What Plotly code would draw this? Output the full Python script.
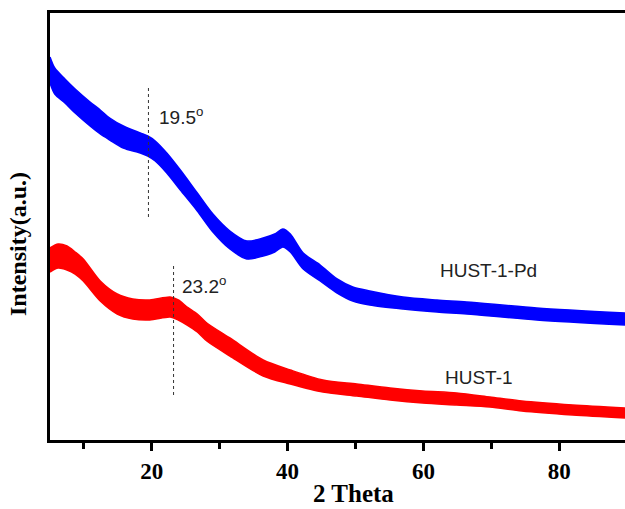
import plotly.graph_objects as go

# XRD patterns: 2-theta (deg) vs. intensity (a.u.), plus half-width of the noise band
pd_two_theta = [5.0, 5.7, 7.2, 8.7, 10.9, 12.4, 13.8, 15.8, 18.3, 19.4, 20.5, 22.2, 24.2,
                26.7, 29.0, 31.5, 34.0, 36.4, 38.1, 39.3, 40.4, 42.3, 44.8, 47.3, 49.6,
                52.1, 57.0, 62.0, 66.4, 76.7, 89.7]
pd_intensity = [370, 359, 349, 339, 326, 318, 311, 303, 297, 294, 289, 277, 260,
                238, 217, 200, 190, 193, 197, 202, 197, 179, 167, 154, 146,
                142, 137, 134, 132, 126, 121]
pd_spread = [13, 13, 12, 12, 12, 12, 11, 11, 10, 10, 10, 10, 10,
             9, 9, 9, 9, 9, 9, 9, 9, 8, 8, 7, 7,
             7, 6, 6, 6, 6, 6]

hk_two_theta = [5.0, 6.2, 7.5, 8.7, 9.9, 12.4, 14.9, 17.2, 19.7, 22.7, 23.9, 25.2, 26.7,
                28.1, 31.5, 36.4, 40.4, 45.2, 50.2, 55.1, 59.9, 64.9, 69.8, 74.5, 82.0, 89.7]
hk_intensity = [180, 184, 182, 177, 170, 149, 136, 131, 130, 133, 130, 124, 117,
                108, 93, 72, 63, 54, 50, 46, 43, 41, 38, 34, 30, 27]
hk_spread = [12, 12, 12, 11, 11, 10, 10, 10, 10, 10, 10, 9, 9,
             9, 9, 8, 7, 6, 6, 6, 6, 6, 5, 5, 5, 5]

series = [
    ("HUST-1-Pd", pd_two_theta, pd_intensity, pd_spread, "#0000FF"),
    ("HUST-1", hk_two_theta, hk_intensity, hk_spread, "#FF0000"),
]

# peak markers: (position, y from, y to)
peak_marks = [(19.5, 223, 355), (23.2, 45, 176)]

# text labels: (x, y, text)
labels = [
    (20.8, 324, "19.5<sup>o</sup>"),
    (24.2, 155, "23.2<sup>o</sup>"),
    (62.1, 170, "HUST-1-Pd"),
    (62.9, 63, "HUST-1"),
]

fig = go.Figure()
for name, tt, inten, spread, color in series:
    upper = [v + s for v, s in zip(inten, spread)]
    lower = [v - s for v, s in zip(inten, spread)]
    fig.add_trace(go.Scatter(x=tt, y=upper, mode="lines",
                             line=dict(color=color, width=1.5, shape="spline",
                                       smoothing=0.8),
                             showlegend=False, hoverinfo="skip"))
    fig.add_trace(go.Scatter(x=tt, y=lower, mode="lines", fill="tonexty",
                             fillcolor=color,
                             line=dict(color=color, width=1.5, shape="spline",
                                       smoothing=0.8),
                             name=name, showlegend=False))

for pos, y0, y1 in peak_marks:
    fig.add_shape(type="line", x0=pos, x1=pos, y0=y0, y1=y1, xref="x", yref="y",
                  line=dict(color="#333333", width=1, dash="dot"))

for x, y, txt in labels:
    fig.add_annotation(x=x, y=y, text=txt, showarrow=False, xanchor="left",
                       yanchor="middle",
                       font=dict(family="Liberation Sans, Arial", size=19, color="#222222"))

# axis titles
serif_bold = dict(family="Liberation Serif, Times New Roman", color="black", weight="bold")
fig.add_annotation(x=(353 - 50) / 575, y=(440 - 494) / 427, xref="paper", yref="paper",
                   text="2 Theta", showarrow=False, xanchor="center", yanchor="middle",
                   font=dict(size=25, **serif_bold))
fig.add_annotation(x=(18 - 50) / 575, y=(440 - 244) / 427, xref="paper", yref="paper",
                   text="Intensity(a.u.)", showarrow=False, textangle=-90,
                   xanchor="center", yanchor="middle",
                   font=dict(size=24, **serif_bold))

fig.update_layout(
    width=625, height=509,
    margin=dict(l=50, r=0, t=13, b=69),
    plot_bgcolor="white", paper_bgcolor="white",
    showlegend=False,
    xaxis=dict(range=[5, 89.7], showline=True, linewidth=3, linecolor="black",
               mirror=True, ticks="outside", ticklen=8, tickwidth=3,
               tickcolor="black", tickvals=[20, 40, 60, 80],
               minor=dict(tickvals=[10, 30, 50, 70], ticks="outside", ticklen=6,
                          tickwidth=3, tickcolor="black"),
               showgrid=False, zeroline=False,
               tickfont=dict(size=23, **serif_bold)),
    yaxis=dict(range=[0, 427], showline=True, linewidth=3, linecolor="black",
               mirror=False, ticks="", showticklabels=False, showgrid=False,
               zeroline=False),
)

fig.write_html("out.html")
